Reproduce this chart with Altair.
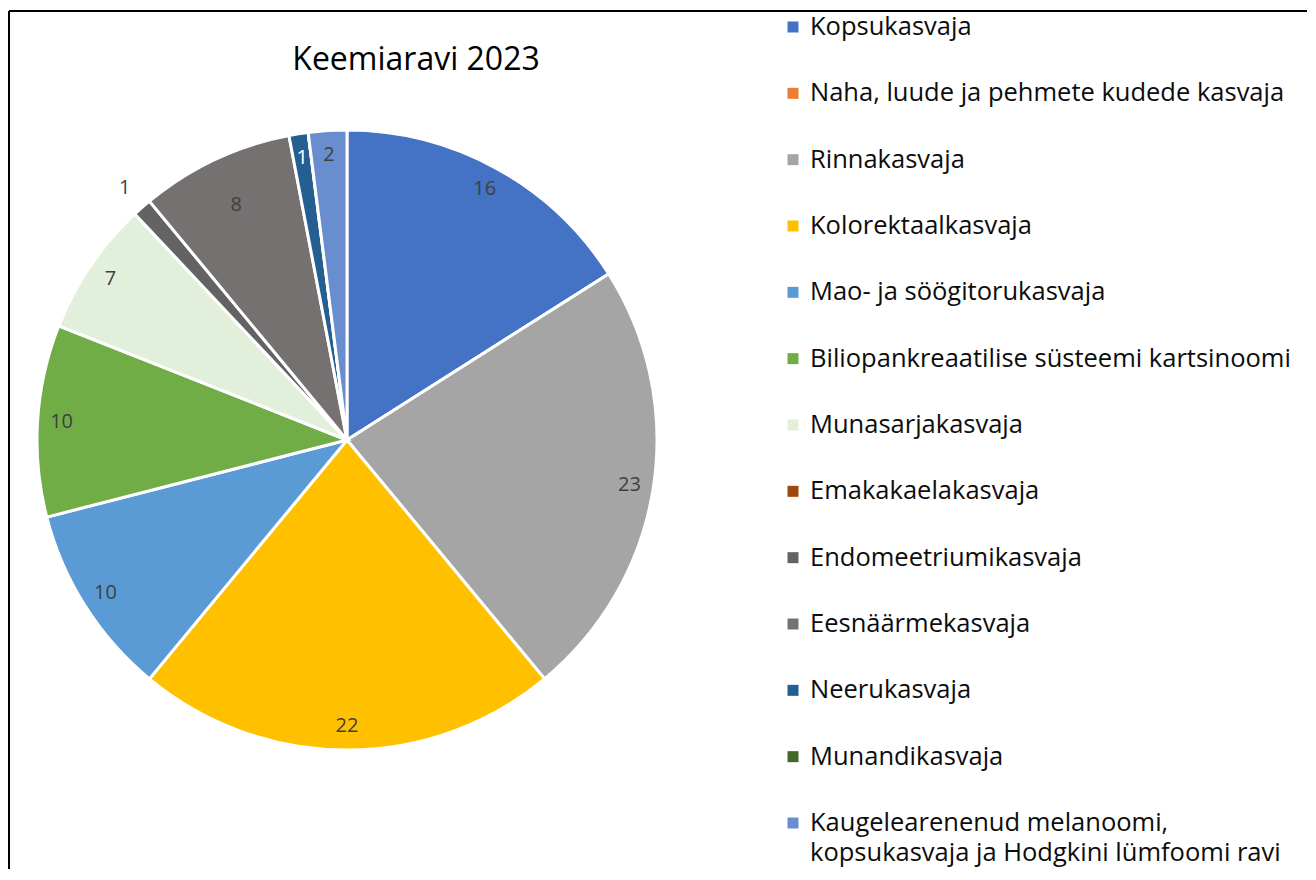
import altair as alt
import pandas as pd

categories = [
    "Kopsukasvaja",
    "Naha, luude ja pehmete kudede kasvaja",
    "Rinnakasvaja",
    "Kolorektaalkasvaja",
    "Mao- ja söögitorukasvaja",
    "Biliopankreaatilise süsteemi kartsinoomi",
    "Munasarjakasvaja",
    "Emakakaelakasvaja",
    "Endomeetriumikasvaja",
    "Eesnäärmekasvaja",
    "Neerukasvaja",
    "Munandikasvaja",
    "Kaugelearenenud melanoomi, kopsukasvaja ja Hodgkini lümfoomi ravi",
]
values = [16, 0, 23, 22, 10, 10, 7, 0, 1, 8, 1, 0, 2]
palette = [
    "#4472C4", "#ED7D31", "#A5A5A5", "#FFC000", "#5B9BD5", "#70AD47",
    "#E2EFDA", "#9E480E", "#636363", "#767171", "#255E91", "#43682B", "#698ED0",
]
title_text = ["Keemiaravi 2023"]

df = pd.DataFrame({"cat": categories, "val": values, "idx": list(range(len(categories)))})
df["label"] = df["cat"].where(
    df["idx"] != 12,
    "Kaugelearenenud melanoomi,\nkopsukasvaja ja Hodgkini lümfoomi ravi",
)

FONT = "Open Sans"
CX, CY, R = 338, 429, 310
W, H = 1298, 858

base = alt.Chart(df)
color = alt.Color("cat:N", scale=alt.Scale(domain=categories, range=palette), legend=None)

arcs = base.mark_arc(outerRadius=R, stroke="white", strokeWidth=3).encode(
    theta=alt.Theta("val:Q", stack=True),
    color=color,
    order=alt.Order("idx:Q"),
    x=alt.value(CX),
    y=alt.value(CY),
)


def label_layer(radius, show_expr):
    return base.mark_text(
        font=FONT, fontSize=20, baseline="middle", align="center", radius=radius
    ).encode(
        theta=alt.Theta("val:Q", stack=True),
        text=alt.Text("val:Q"),
        order=alt.Order("idx:Q"),
        color=alt.condition(
            "datum.cat == 'Neerukasvaja'", alt.value("white"), alt.value("#404040")
        ),
        opacity=alt.condition(show_expr, alt.value(1), alt.value(0)),
        x=alt.value(CX),
        y=alt.value(CY),
    )


lab_main = label_layer(
    286,
    "datum.val > 0 && datum.cat != 'Endomeetriumikasvaja' && datum.cat != 'Eesnäärmekasvaja'",
)
lab_out = label_layer(336, "datum.cat == 'Endomeetriumikasvaja'")
lab_in = label_layer(260, "datum.cat == 'Eesnäärmekasvaja'")

ypos = alt.Y(
    "cat:N",
    scale=alt.Scale(domain=categories, range=[16, 812], padding=0),
    axis=None,
)

leg_sym = base.mark_square(size=121, opacity=1).encode(
    x=alt.value(784),
    y=ypos,
    color=color,
)

leg_txt = base.mark_text(
    font=FONT, fontSize=25.5, align="left", baseline="alphabetic", dy=8,
    lineBreak="\n", lineHeight=30, color="#0d0d0d",
).encode(
    x=alt.value(801),
    y=ypos,
    text="label:N",
)

title_df = pd.DataFrame({"t": title_text})
title = alt.Chart(title_df).mark_text(
    font=FONT, fontSize=32, align="center", baseline="alphabetic", color="#000000"
).encode(x=alt.value(407), y=alt.value(59), text="t:N")

frame_top = alt.Chart(title_df).mark_rule(color="black", strokeWidth=2).encode(
    x=alt.value(0), x2=alt.value(W), y=alt.value(0)
)
frame_left = alt.Chart(title_df).mark_rule(color="black", strokeWidth=2).encode(
    x=alt.value(0), y=alt.value(0), y2=alt.value(H)
)

chart = (
    alt.layer(arcs, lab_main, lab_out, lab_in, leg_sym, leg_txt, title, frame_top, frame_left)
    .properties(
        width=W,
        height=H,
        autosize=alt.AutoSizeParams(type="none"),
        padding={"left": 1, "top": 3, "right": 0, "bottom": 0},
    )
    .configure_view(stroke=None)
)

chart.save("out.html", embed_options={"renderer": "svg", "actions": False})
